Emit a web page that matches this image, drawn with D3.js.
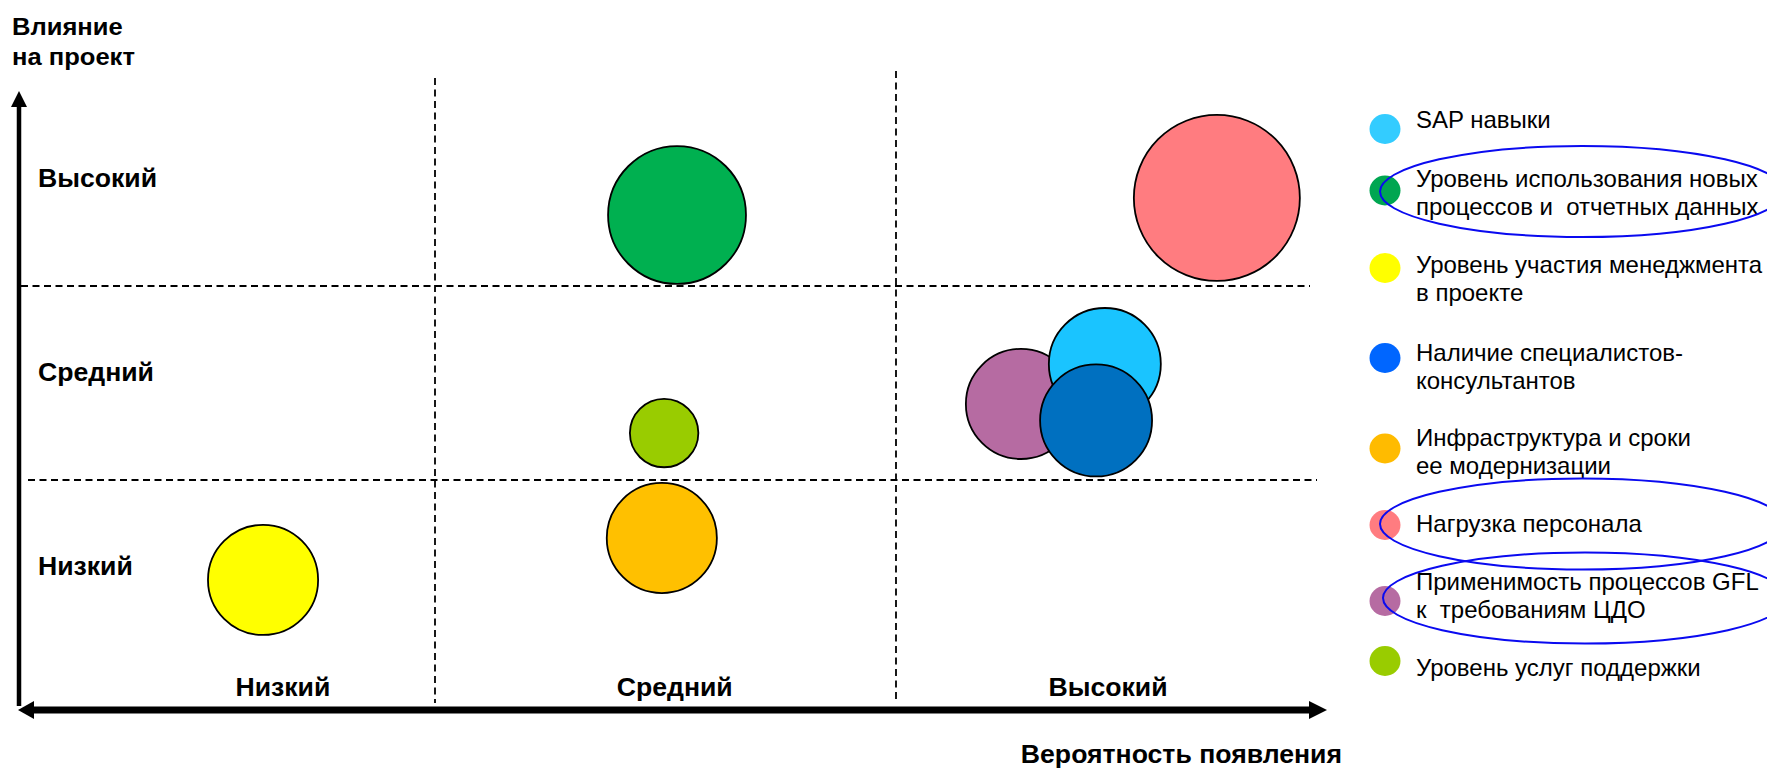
<!DOCTYPE html>
<html>
<head>
<meta charset="utf-8">
<script src="https://cdn.jsdelivr.net/npm/d3@7"></script>
<style>
  html, body { margin: 0; padding: 0; background: #fff; }
  svg { display: block; }
  text { font-family: "Liberation Sans", Arial, sans-serif; fill: #000; white-space: pre; }
</style>
</head>
<body>
<svg id="chart" width="1767" height="769"></svg>
<script>
// ---------- data ----------
const categories = [
  "SAP навыки",
  "Уровень использования новых процессов и  отчетных данных",
  "Уровень участия менеджмента в проекте",
  "Наличие специалистов-консультантов",
  "Инфраструктура и сроки ее модернизации",
  "Нагрузка персонала",
  "Применимость процессов GFL к  требованиям ЦДО",
  "Уровень услуг поддержки"
];
const legendLines = [
  ["SAP навыки"],
  ["Уровень использования новых", "процессов и  отчетных данных"],
  ["Уровень участия менеджмента", "в проекте"],
  ["Наличие специалистов-", "консультантов"],
  ["Инфраструктура и сроки", "ее модернизации"],
  ["Нагрузка персонала"],
  ["Применимость процессов GFL", "к  требованиям ЦДО"],
  ["Уровень услуг поддержки"]
];
// probability of occurrence (x) and impact on project (y), 0..3 scale (1 and 2 = quadrant borders)
const probability = [2.453, 1.525, 0.627, 2.434, 1.492, 2.696, 2.271, 1.497];
const impact      = [1.598, 2.366, 0.485, 1.307, 0.701, 2.454, 1.392, 1.242];
const riskSize    = [45.5, 69, 44, 45.5, 44, 100, 44, 17];
const bubbleColors = ["#1AC4FF", "#00B050", "#FFFF00", "#0070C0", "#FFC000", "#FF7C80", "#B66BA2", "#99CC00"];
const legendColors = ["#33CCFF", "#00A651", "#FFFF00", "#0066FF", "#FFBB00", "#FF7C80", "#B66BA2", "#99CC00"];
const drawOrder = [2, 1, 4, 7, 5, 6, 0, 3];
const highlighted = [1, 5, 6];

const levelLabels = ["Низкий", "Средний", "Высокий"];
const xTickValues = [0.67, 1.52, 2.46];
const yTickValues = [0.5, 1.5, 2.5];
const gridValues = [1, 2];
const yAxisTitle = ["Влияние", "на проект"];
const xAxisTitle = "Вероятность появления";

// ---------- layout ----------
const svg = d3.select("#chart");
svg.append("rect").attr("width", 1767).attr("height", 769).attr("fill", "#fff");

const x = d3.scaleLinear().domain([1, 2]).range([435, 896]);
const y = d3.scaleLinear().domain([1, 2]).range([480, 286]);
const r = d3.scaleSqrt().domain([0, 100]).range([0, 83]);

const axisX0 = 18, axisX1 = 1327, axisY = 710;
const axisYx = 19, axisYtop = 91, axisYbottom = 706;
const stretch = 1.065; // bold labels are slightly wide in the original

// grid (dashed quadrant borders)
const vTop = [78, 71];
svg.append("g").selectAll("line").data(gridValues).join("line")
  .attr("x1", d => x(d)).attr("x2", d => x(d))
  .attr("y1", (d, i) => vTop[i]).attr("y2", 703)
  .attr("stroke", "#000").attr("stroke-width", 1.8).attr("stroke-dasharray", "7,4.5");
const hLeft = [28, 21], hRight = [1317, 1310];
svg.append("g").selectAll("line").data(gridValues).join("line")
  .attr("x1", (d, i) => hLeft[i]).attr("x2", (d, i) => hRight[i])
  .attr("y1", d => y(d)).attr("y2", d => y(d))
  .attr("stroke", "#000").attr("stroke-width", 1.8).attr("stroke-dasharray", "7,4.5");

// y axis with arrow
svg.append("line").attr("x1", axisYx).attr("x2", axisYx)
  .attr("y1", axisYbottom).attr("y2", axisYtop + 12)
  .attr("stroke", "#000").attr("stroke-width", 4.5);
svg.append("path")
  .attr("d", `M${axisYx},${axisYtop} L${axisYx - 8},${axisYtop + 16} L${axisYx + 8},${axisYtop + 16} Z`)
  .attr("fill", "#000");

// x axis with double arrow
svg.append("line").attr("x1", axisX0 + 12).attr("x2", axisX1 - 12)
  .attr("y1", axisY).attr("y2", axisY)
  .attr("stroke", "#000").attr("stroke-width", 7);
svg.append("path")
  .attr("d", `M${axisX0},${axisY} L${axisX0 + 16},${axisY - 9} L${axisX0 + 16},${axisY + 9} Z`)
  .attr("fill", "#000");
svg.append("path")
  .attr("d", `M${axisX1},${axisY} L${axisX1 - 18},${axisY - 9} L${axisX1 - 18},${axisY + 9} Z`)
  .attr("fill", "#000");

// axis titles
svg.append("g").selectAll("text").data(yAxisTitle).join("text")
  .attr("transform", (d, i) => `translate(12,${35 + i * 30}) scale(${stretch},1)`)
  .attr("font-weight", "bold").attr("font-size", 24).text(d => d);
svg.append("text")
  .attr("transform", `translate(1342,763) scale(${stretch},1)`)
  .attr("text-anchor", "end")
  .attr("font-weight", "bold").attr("font-size", 25).text(xAxisTitle);

// category labels
svg.append("g").selectAll("text").data(levelLabels).join("text")
  .attr("transform", (d, i) => `translate(38,${y(yTickValues[i]) - 2}) scale(${stretch},1)`)
  .attr("font-weight", "bold").attr("font-size", 25).text(d => d);
svg.append("g").selectAll("text").data(levelLabels).join("text")
  .attr("transform", (d, i) => `translate(${x(xTickValues[i])},696) scale(${stretch},1)`)
  .attr("text-anchor", "middle")
  .attr("font-weight", "bold").attr("font-size", 25).text(d => d);

// bubbles
svg.append("g").selectAll("circle").data(drawOrder).join("circle")
  .attr("cx", i => x(probability[i]))
  .attr("cy", i => y(impact[i]))
  .attr("r", i => r(riskSize[i]))
  .attr("fill", i => bubbleColors[i])
  .attr("stroke", "#000").attr("stroke-width", 1.8);

// legend
const legendMarkerY = [129, 190.5, 268, 358, 448.5, 525, 601, 661];
const legendTextY = [128, 186.5, 272.5, 360.5, 446, 532, 589.5, 675.5];
const lg = svg.append("g");
lg.selectAll("ellipse").data(categories).join("ellipse")
  .attr("cx", 1385).attr("cy", (d, i) => legendMarkerY[i])
  .attr("rx", 15.5).attr("ry", 15)
  .attr("fill", (d, i) => legendColors[i]);
lg.selectAll("text").data(categories).join("text")
  .attr("font-size", 24)
  .each(function (d, i) {
    d3.select(this).selectAll("tspan").data(legendLines[i]).join("tspan")
      .attr("x", 1416).attr("y", (t, j) => legendTextY[i] + j * 28).text(t => t);
  });

// hand-drawn highlight ellipses
const hlCenterY = [191.5, 524, 598];
const hlCenterX = [1582, 1582, 1585];
svg.append("g").selectAll("ellipse").data(highlighted).join("ellipse")
  .attr("cx", (d, i) => hlCenterX[i]).attr("cy", (d, i) => hlCenterY[i])
  .attr("rx", 202).attr("ry", 45.5)
  .attr("fill", "none").attr("stroke", "#0A0AF0").attr("stroke-width", 2);
</script>
</body>
</html>
